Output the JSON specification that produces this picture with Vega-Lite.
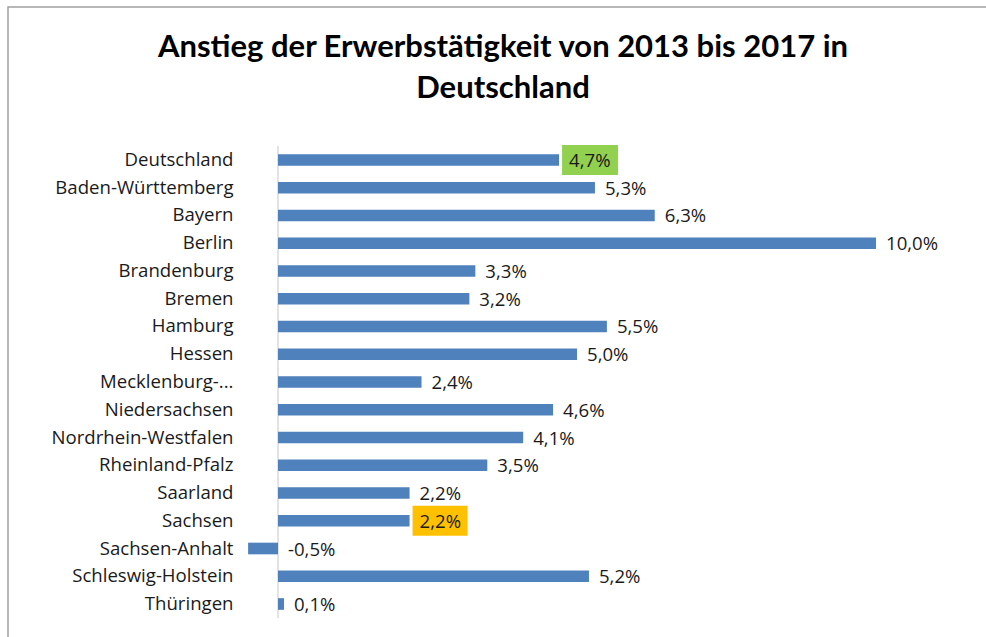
{
  "$schema": "https://vega.github.io/schema/vega-lite/v6.json",
  "autosize": "none",
  "padding": {"left": 8, "top": 7, "right": 0, "bottom": 0},
  "width": 990,
  "height": 640,
  "background": "white",
  "title": {
    "text": ["Anstieg der Erwerbstätigkeit von 2013 bis 2017 in", "Deutschland"],
    "font": "Lato",
    "fontSize": 31,
    "fontWeight": "bold",
    "color": "#000000",
    "anchor": "middle",
    "frame": "group",
    "lineHeight": 41,
    "offset": -98
  },
  "data": {
    "values": [
      {"state": "Deutschland", "value": 0.047},
      {"state": "Baden-Württemberg", "value": 0.053},
      {"state": "Bayern", "value": 0.063},
      {"state": "Berlin", "value": 0.100},
      {"state": "Brandenburg", "value": 0.033},
      {"state": "Bremen", "value": 0.032},
      {"state": "Hamburg", "value": 0.055},
      {"state": "Hessen", "value": 0.050},
      {"state": "Mecklenburg-...", "value": 0.024},
      {"state": "Niedersachsen", "value": 0.046},
      {"state": "Nordrhein-Westfalen", "value": 0.041},
      {"state": "Rheinland-Pfalz", "value": 0.035},
      {"state": "Saarland", "value": 0.022},
      {"state": "Sachsen", "value": 0.022},
      {"state": "Sachsen-Anhalt", "value": -0.005},
      {"state": "Schleswig-Holstein", "value": 0.052},
      {"state": "Thüringen", "value": 0.001}
    ]
  },
  "encoding": {
    "y": {
      "field": "state",
      "type": "nominal",
      "sort": null,
      "title": null,
      "scale": {"paddingInner": 0.58, "paddingOuter": 0, "range": [147.17, 602.83]},
      "axis": {
        "offset": -270,
        "domain": false,
        "ticks": false,
        "tickSize": 0,
        "labelPadding": 45,
        "labelFont": "Open Sans",
        "labelFontSize": 18.6,
        "labelColor": "#1a1a1a",
        "labelLimit": 300,
        "grid": false
      }
    }
  },
  "layer": [
    {
      "mark": {"type": "tick", "color": "#b0b0b0", "thickness": 1, "size": 28, "orient": "vertical"},
      "encoding": {
        "x": {"datum": 0, "type": "quantitative", "scale": {"domain": [-0.04515, 0.1204], "nice": false, "zero": false}, "axis": null}
      }
    },
    {
      "mark": {"type": "bar", "color": "#4F81BD"},
      "encoding": {
        "x": {"field": "value", "type": "quantitative"}
      }
    },
    {
      "transform": [{"filter": "datum.state === 'Deutschland'"}],
      "mark": {"type": "bar", "color": "#92D050", "height": 30, "xOffset": 3, "x2Offset": 59},
      "encoding": {
        "x": {"field": "value", "type": "quantitative"},
        "x2": {"field": "value"}
      }
    },
    {
      "transform": [{"filter": "datum.state === 'Sachsen'"}],
      "mark": {"type": "bar", "color": "#FFC000", "height": 30, "xOffset": 3, "x2Offset": 58},
      "encoding": {
        "x": {"field": "value", "type": "quantitative"},
        "x2": {"field": "value"}
      }
    },
    {
      "transform": [{"calculate": "max(datum.value, 0)", "as": "labelPos"}],
      "mark": {"type": "text", "align": "left", "baseline": "middle", "dx": 10, "dy": 1, "font": "Open Sans", "fontSize": 18.6, "color": "#1a1a1a"},
      "encoding": {
        "x": {"field": "labelPos", "type": "quantitative"},
        "text": {"field": "value", "type": "quantitative", "format": ".1%"}
      }
    }
  ],
  "config": {
    "view": {"stroke": "#a0a0a0", "strokeWidth": 1.5},
    "locale": {
      "number": {"decimal": ",", "thousands": ".", "grouping": [3], "currency": ["", " €"], "minus": "-"}
    }
  }
}
